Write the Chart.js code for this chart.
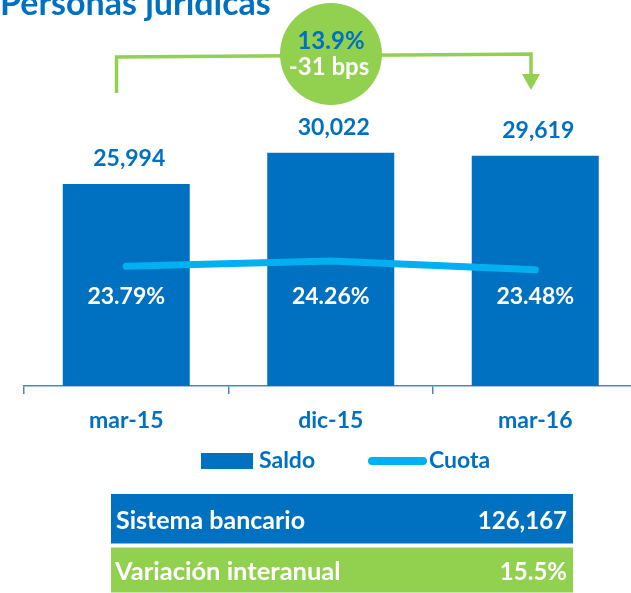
<!DOCTYPE html>
<html>
<head>
<meta charset="utf-8">
<script src="https://cdn.jsdelivr.net/npm/chart.js"></script>
<style>
  html, body { margin: 0; padding: 0; background: #fff; }
  body { width: 631px; height: 593px; overflow: hidden; position: relative; font-family: Lato, "Open Sans", sans-serif; }
  #chartBox { position: absolute; left: 0; top: 0; width: 645px; height: 440px; }
  #overlay { position: absolute; left: 0; top: 0; pointer-events: none; }
  #overlay text { font-family: Lato, "Open Sans", sans-serif; font-weight: bold; }
</style>
</head>
<body>
<div id="chartBox"><canvas id="mainChart" width="645" height="440"></canvas></div>

<svg id="overlay" width="631" height="593" xmlns="http://www.w3.org/2000/svg">
  <!-- title -->
  <text id="title" x="0" y="15" font-size="34" fill="#0070C0"></text>

  <!-- growth bracket -->
  <polyline points="116.5,93 116.5,57 531,54 531,76" fill="none" stroke="#92D050" stroke-width="3.5"/>
  <polygon points="522,74 540,74 531,90" fill="#92D050"/>
  <circle cx="331" cy="54" r="51" fill="#92D050"/>
  <text id="growth" x="331" y="49" font-size="24" fill="#0070C0" text-anchor="middle"></text>
  <text id="bps" x="329" y="74.5" font-size="24" fill="#fff" text-anchor="middle"></text>

  <!-- legend -->
  <rect x="201" y="453" width="52" height="16" fill="#0070C0"/>
  <text id="legSaldo" x="259" y="468" font-size="23" fill="#0070C0"></text>
  <line x1="372" y1="461" x2="423" y2="461" stroke="#00B0F0" stroke-width="8" stroke-linecap="round"/>
  <text id="legCuota" x="429" y="468" font-size="23" fill="#0070C0"></text>

  <!-- bottom table -->
  <rect x="111" y="494" width="462" height="49.5" fill="#0070C0"/>
  <rect x="111" y="547.5" width="462" height="45" fill="#92D050"/>
  <text id="sisLabel" x="116" y="529" font-size="25" fill="#fff"></text>
  <text id="sisValue" x="567" y="529" font-size="24" fill="#fff" text-anchor="end"></text>
  <text id="varLabel" x="115" y="580" font-size="25.5" fill="#fff"></text>
  <text id="varValue" x="567" y="580" font-size="24" fill="#fff" text-anchor="end"></text>
</svg>

<script>
// DATA
const categories = ["mar-15", "dic-15", "mar-16"];
const saldo = [25994, 30022, 29619];      // bars
const cuota = [23.79, 24.26, 23.48];      // line, %
const seriesNames = ["Saldo", "Cuota"];

const titleText = "Personas jurídicas";
const growthText = "13.9%";
const bpsText = "-31 bps";
const tableLabels = ["Sistema bancario", "Variación interanual"];
const tableValues = ["126,167", "15.5%"];

// COLORS
const BLUE = "#0070C0";
const LIGHT_BLUE = "#00B0F0";
const AXIS = "#4A86C8";
const FONT = "Lato, 'Open Sans', sans-serif";

// fill overlay texts
document.getElementById("title").textContent = titleText;
document.getElementById("growth").textContent = growthText;
document.getElementById("bps").textContent = bpsText;
document.getElementById("legSaldo").textContent = seriesNames[0];
document.getElementById("legCuota").textContent = seriesNames[1];
document.getElementById("sisLabel").textContent = tableLabels[0];
document.getElementById("sisValue").textContent = tableValues[0];
document.getElementById("varLabel").textContent = tableLabels[1];
document.getElementById("varValue").textContent = tableValues[1];

// VALUE LABELS (numbers above bars, % inside bars)
const valueLabels = {
  id: "valueLabels",
  afterDatasetsDraw(chart) {
    const ctx = chart.ctx;
    const barMeta = chart.getDatasetMeta(1);
    ctx.save();
    ctx.font = "bold 23px " + FONT;
    ctx.textAlign = "center";
    ctx.textBaseline = "alphabetic";

    barMeta.data.forEach((bar, i) => {
      ctx.fillStyle = BLUE;
      ctx.fillText(saldo[i].toLocaleString("en-US"), bar.x + 3, bar.y - 18);

      ctx.fillStyle = "#fff";
      ctx.fillText(cuota[i].toFixed(2) + "%", bar.x, chart.chartArea.bottom - 82);
    });
    ctx.restore();
  }
};

function drawChart() {
  const ctx = document.getElementById("mainChart");
  new Chart(ctx, {
    type: "bar",
    data: {
      labels: categories,
      datasets: [
        {
          type: "line",
          label: seriesNames[1],
          data: cuota,
          yAxisID: "y1",
          borderColor: LIGHT_BLUE,
          borderWidth: 7,
          borderCapStyle: "round",
          borderJoinStyle: "round",
          pointRadius: 0,
          tension: 0,
          order: 0
        },
        {
          label: seriesNames[0],
          data: saldo,
          yAxisID: "y",
          backgroundColor: BLUE,
          barPercentage: 0.621,
          categoryPercentage: 1,
          order: 1
        }
      ]
    },
    options: {
      responsive: false,
      animation: false,
      devicePixelRatio: 1,
      layout: { padding: { top: 100, left: 24, right: 7.5, bottom: 0 } },
      plugins: {
        legend: { display: false },
        tooltip: { enabled: false }
      },
      scales: {
        x: {
          offset: true,
          grid: {
            display: true,
            offset: true,
            drawOnChartArea: false,
            drawTicks: true,
            tickLength: 8,
            color: AXIS,
            lineWidth: 1.5
          },
          border: { display: true, color: AXIS, width: 1.5 },
          ticks: {
            color: BLUE,
            font: { family: FONT, weight: "bold", size: 23 },
            padding: 13,
            maxRotation: 0
          },
          afterFit: (scale) => { scale.height = 54; }
        },
        y: { display: false, min: 0, max: 36800 },
        y1: { display: false, position: "right", min: 13.2, max: 38.5 }
      }
    },
    plugins: [valueLabels]
  });
}

// wait for the local font, then draw
Promise.all([
  document.fonts.load("bold 23px Lato"),
  document.fonts.load("bold 34px Lato")
]).catch(() => {}).then(drawChart);
</script>
</body>
</html>
